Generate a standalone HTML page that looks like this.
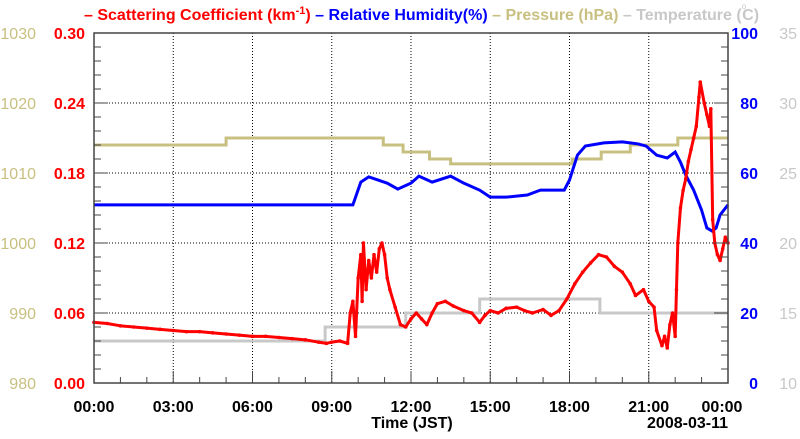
<!DOCTYPE html>
<html><head><meta charset="utf-8"><style>
body{margin:0;background:#fff;width:800px;height:434px;overflow:hidden}
svg{font-family:"Liberation Sans",sans-serif;font-weight:bold}
</style></head><body>
<svg id="chart" width="800" height="434" viewBox="0 0 800 434" xmlns="http://www.w3.org/2000/svg">
<g font-size="16">
<text x="84" y="20" fill="#ff0000">– Scattering Coefficient (km<tspan dy="-6" font-size="11">-1</tspan><tspan dy="6">) </tspan><tspan fill="#0000ff">– Relative Humidity(%) </tspan><tspan fill="#c8c080">– Pressure (hPa) </tspan><tspan fill="#c8c8c8">– Temperature (</tspan><tspan fill="#c8c8c8" dy="-11" font-size="8" font-weight="normal">o</tspan><tspan fill="#c8c8c8" dy="11" dx="-4">C)</tspan></text>
</g>
<g id="grid"></g>
<g id="series"></g>
<g id="axes"></g>
</svg>
<script>
const xTickLabels=["00:00","03:00","06:00","09:00","12:00","15:00","18:00","21:00","00:00"];
const redTicks=[0,0.06,0.12,0.18,0.24,0.30];
const rhTicks=[0,20,40,60,80,100];
const presTicks=[980,990,1000,1010,1020,1030];
const tempTicks=[10,15,20,25,30,35];
const scatT=[0,0.5,1,1.5,2,2.5,3,3.5,4,4.5,5,5.5,6,6.5,7,7.5,8,8.5,8.8,9,9.3,9.6,9.7,9.8,9.9,10.0,10.1,10.15,10.2,10.3,10.4,10.5,10.6,10.7,10.8,10.9,11.0,11.1,11.2,11.4,11.6,11.8,12.0,12.2,12.4,12.6,12.8,13.0,13.3,13.6,14.0,14.3,14.6,14.8,15.0,15.3,15.6,16.0,16.3,16.6,17.0,17.3,17.6,17.9,18.2,18.5,18.8,19.1,19.4,19.7,20.0,20.3,20.5,20.8,21.0,21.2,21.3,21.5,21.6,21.7,21.8,21.9,22.0,22.05,22.1,22.2,22.3,22.4,22.5,22.6,22.7,22.8,22.9,22.95,23.1,23.2,23.3,23.35,23.42,23.5,23.6,23.7,23.8,23.9,24];
const scatV=[0.052,0.051,0.049,0.048,0.047,0.046,0.045,0.044,0.044,0.043,0.042,0.041,0.040,0.040,0.039,0.038,0.037,0.035,0.034,0.035,0.036,0.034,0.06,0.07,0.04,0.09,0.11,0.07,0.12,0.08,0.105,0.09,0.11,0.095,0.115,0.12,0.11,0.09,0.08,0.065,0.05,0.048,0.055,0.06,0.055,0.05,0.06,0.068,0.07,0.066,0.062,0.06,0.052,0.058,0.062,0.06,0.064,0.065,0.062,0.06,0.063,0.058,0.062,0.072,0.085,0.095,0.103,0.11,0.108,0.1,0.095,0.085,0.075,0.08,0.07,0.065,0.045,0.032,0.04,0.03,0.05,0.06,0.04,0.08,0.12,0.15,0.165,0.175,0.19,0.2,0.21,0.22,0.245,0.258,0.24,0.23,0.22,0.235,0.14,0.12,0.11,0.105,0.115,0.125,0.12];
const rhT=[0,9.8,10.1,10.4,11.1,11.5,12.0,12.3,12.8,13.5,14.0,14.6,15.0,15.6,16.4,16.9,17.8,18.0,18.3,18.6,19.3,20.0,20.6,20.9,21.3,21.7,22.0,22.2,22.4,22.7,23.0,23.2,23.4,23.55,23.7,24];
const rhV=[50.9,50.9,57.4,58.9,57.1,55.4,57.1,59.1,57.4,59.1,57.1,55.1,53.1,53.1,53.7,55.1,55.1,58,65.1,67.7,68.6,68.9,68.3,67.7,65.1,64.3,66,63.1,59.4,55.1,49.4,44.3,43.4,44.3,48,50.9];
const presT=[0,5,10.95,11.7,12.7,13.5,18.1,19.2,20.3,22.1,24];
const presV=[1014,1015,1014,1013,1012,1011.3,1012,1013,1014,1015,1015];
const tempT=[0,8.75,11.8,14.6,19.15,24];
const tempV=[13,14,15,16,15,15];

const L=94,R=728,T=33,B=383;
const NS="http://www.w3.org/2000/svg";
const xS=h=>L+h/24*(R-L);
const yRed=v=>B-v/0.3*(B-T);
const yRh=v=>B-v/100*(B-T);
const yPres=v=>B-(v-980)/50*(B-T);
const yTemp=v=>B-(v-10)/25*(B-T);
function mk(p,tag,a){const e=document.createElementNS(NS,tag);for(const k in a)e.setAttribute(k,a[k]);p.appendChild(e);return e;}
const grid=document.getElementById('grid'),ser=document.getElementById('series'),ax=document.getElementById('axes');
for(let i=1;i<8;i++){const g=mk(grid,'line',{x1:xS(i*3),x2:xS(i*3),y1:T,y2:B,stroke:'#000','stroke-width':1,'stroke-dasharray':'1,2'});

}
for(let i=1;i<5;i++){const y=yRed(redTicks[i]);const g=mk(grid,'line',{x1:L,x2:R,y1:y,y2:y,stroke:'#000','stroke-width':1,'stroke-dasharray':'1,2'});

}
function step(ts,vs,ys){let d='M'+xS(ts[0])+','+ys(vs[0]);for(let i=1;i<ts.length;i++){d+='H'+xS(ts[i])+'V'+ys(vs[i]);}return d;}
const tp=mk(ser,'path',{d:step(tempT,tempV,yTemp),fill:'none',stroke:'#c8c8c8','stroke-width':3});


const pp=mk(ser,'path',{d:step(presT,presV,yPres),fill:'none',stroke:'#c8c080','stroke-width':3});


let dr='M'+xS(rhT[0])+','+yRh(rhV[0]);for(let i=1;i<rhT.length;i++){dr+='L'+xS(rhT[i])+','+yRh(rhV[i]);}
const rp=mk(ser,'path',{d:dr,fill:'none',stroke:'#0000ff','stroke-width':3});


let ds='M'+xS(scatT[0])+','+yRed(scatV[0]);for(let i=1;i<scatT.length;i++){ds+='L'+xS(scatT[i])+','+yRed(scatV[i]);}
const sp=mk(ser,'path',{d:ds,fill:'none',stroke:'#ff0000','stroke-width':3,'stroke-linejoin':'round'});


for(let i=0;i<scatT.length;i++){const c=mk(ser,'circle',{cx:xS(scatT[i]),cy:yRed(scatV[i]),r:1.8,fill:'#ff0000'});

}
const fr=mk(ax,'rect',{x:L,y:T,width:R-L,height:B-T,fill:'none',stroke:'#444','stroke-width':1.5});


for(let h=0;h<=24;h++){const len=h%3==0?12:6;mk(ax,'line',{x1:xS(h),x2:xS(h),y1:B,y2:B-len,stroke:'#444','stroke-width':1});}
for(let k=0;k<=25;k++){const y=T+k*14;const len=k%5==0?14:7;mk(ax,'line',{x1:L,x2:L+len,y1:y,y2:y,stroke:'#444'});mk(ax,'line',{x1:R,x2:R-len,y1:y,y2:y,stroke:'#444'});}
xTickLabels.forEach((s,i)=>{const t=mk(ax,'text',{x:xS(i*3)+(i==8?-6:0),y:412,'text-anchor':'middle','font-size':16,fill:'#000'});t.textContent=s;

});
const xt=mk(ax,'text',{x:412,y:428,'text-anchor':'middle','font-size':16,fill:'#000'});xt.textContent='Time (JST)';


const dt=mk(ax,'text',{x:728,y:428,'text-anchor':'end','font-size':16,fill:'#000'});dt.textContent='2008-03-11';


redTicks.forEach(v=>{const t=mk(ax,'text',{x:85,y:yRed(v)+6,'text-anchor':'end','font-size':16,fill:'#ff0000'});t.textContent=v.toFixed(2);

});
presTicks.forEach(v=>{const t=mk(ax,'text',{x:36,y:yPres(v)+6,'text-anchor':'end','font-size':16,'font-weight':'normal',fill:'#c8c080'});t.textContent=v;

});
rhTicks.forEach(v=>{const t=mk(ax,'text',{x:758,y:yRh(v)+6,'text-anchor':'end','font-size':16,fill:'#0000ff'});t.textContent=v;

});
tempTicks.forEach(v=>{const t=mk(ax,'text',{x:797,y:yTemp(v)+6,'text-anchor':'end','font-size':16,'font-weight':'normal',fill:'#c8c8c8'});t.textContent=v;

});
</script>
</body></html>
